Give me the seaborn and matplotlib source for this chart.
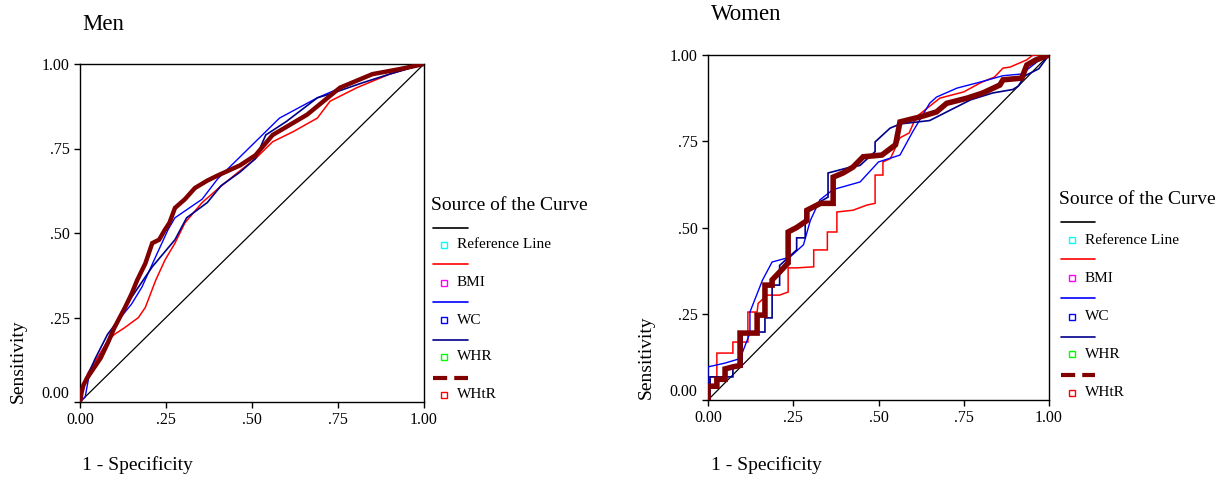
import matplotlib
matplotlib.use("Agg")
import matplotlib.pyplot as plt
from matplotlib.lines import Line2D
import seaborn as sns

# ---------------- data (1 - specificity, sensitivity) ----------------
men_ref_x = [0.0, 1.0]
men_ref_y = [0.0, 1.0]

men_bmi_x = [0, 0.005, 0.023, 0.05, 0.08, 0.10, 0.13, 0.17, 0.19, 0.22, 0.247, 0.276, 0.305,
             0.355, 0.40, 0.46, 0.51, 0.56, 0.62, 0.69, 0.727, 0.805, 0.90, 1.0]
men_bmi_y = [0, 0.04, 0.086, 0.13, 0.18, 0.20, 0.22, 0.25, 0.28, 0.36, 0.42, 0.47, 0.53,
             0.59, 0.63, 0.68, 0.72, 0.77, 0.80, 0.84, 0.89, 0.93, 0.97, 1.0]

men_wc_x = [0, 0.015, 0.025, 0.05, 0.08, 0.11, 0.15, 0.18, 0.22, 0.256, 0.276, 0.355, 0.40,
            0.46, 0.53, 0.58, 0.69, 0.85, 1.0]
men_wc_y = [0, 0.015, 0.07, 0.12, 0.18, 0.24, 0.29, 0.34, 0.43, 0.51, 0.545, 0.60, 0.66,
            0.72, 0.79, 0.84, 0.90, 0.97, 1.0]

men_whr_x = [0, 0.01, 0.02, 0.045, 0.08, 0.11, 0.15, 0.21, 0.276, 0.31, 0.37, 0.41, 0.465,
             0.51, 0.54, 0.60, 0.69, 0.735, 0.82, 0.90, 1.0]
men_whr_y = [0, 0.05, 0.074, 0.13, 0.20, 0.24, 0.31, 0.40, 0.48, 0.545, 0.59, 0.64, 0.68,
             0.72, 0.79, 0.83, 0.90, 0.914, 0.944, 0.97, 1.0]

men_whtr_x = [0, 0.005, 0.01, 0.02, 0.04, 0.06, 0.081, 0.10, 0.131, 0.15, 0.166, 0.19, 0.21,
              0.23, 0.247, 0.26, 0.276, 0.305, 0.334, 0.37, 0.40, 0.465, 0.51, 0.56, 0.66,
              0.756, 0.85, 0.93, 1.0]
men_whtr_y = [0, 0.03, 0.05, 0.07, 0.10, 0.13, 0.175, 0.22, 0.28, 0.32, 0.36, 0.41, 0.47,
              0.48, 0.51, 0.53, 0.574, 0.60, 0.633, 0.655, 0.67, 0.70, 0.73, 0.79, 0.85,
              0.93, 0.97, 0.985, 1.0]

women_ref_x = [0.0, 1.0]
women_ref_y = [0.0, 1.0]

women_bmi_x = [0, 0.006, 0.006, 0.026, 0.026, 0.073, 0.073, 0.117, 0.117, 0.144, 0.147, 0.173,
               0.21, 0.235, 0.235, 0.26, 0.31, 0.31, 0.35, 0.35, 0.378, 0.378, 0.425, 0.466,
               0.49, 0.49, 0.513, 0.513, 0.535, 0.563, 0.59, 0.61, 0.68, 0.75, 0.80, 0.84,
               0.865, 0.886, 0.935, 0.953, 1.0]
women_bmi_y = [0, 0, 0.067, 0.067, 0.136, 0.136, 0.168, 0.168, 0.255, 0.255, 0.28, 0.304,
               0.304, 0.313, 0.383, 0.383, 0.386, 0.435, 0.435, 0.487, 0.487, 0.545, 0.55,
               0.565, 0.57, 0.652, 0.652, 0.69, 0.70, 0.76, 0.774, 0.82, 0.875, 0.893, 0.92,
               0.936, 0.962, 0.965, 0.986, 1.0, 1.0]

women_wc_x = [0, 0, 0.05, 0.094, 0.123, 0.123, 0.16, 0.188, 0.24, 0.28, 0.30, 0.328, 0.367,
              0.446, 0.50, 0.563, 0.60, 0.65, 0.67, 0.73, 0.80, 0.865, 0.92, 0.965, 1.0]
women_wc_y = [0, 0.096, 0.107, 0.12, 0.194, 0.255, 0.348, 0.40, 0.414, 0.45, 0.52, 0.58, 0.61,
              0.632, 0.69, 0.71, 0.777, 0.86, 0.878, 0.904, 0.922, 0.94, 0.945, 0.98, 1.0]

women_whr_x = [0, 0.006, 0.006, 0.073, 0.073, 0.10, 0.10, 0.167, 0.167, 0.188, 0.188, 0.21,
               0.21, 0.26, 0.26, 0.285, 0.285, 0.352, 0.352, 0.41, 0.446, 0.49, 0.49, 0.534,
               0.563, 0.65, 0.70, 0.77, 0.835, 0.894, 0.91, 0.93, 0.97, 1.0]
women_whr_y = [0, 0, 0.067, 0.067, 0.096, 0.096, 0.197, 0.197, 0.238, 0.238, 0.333, 0.333,
               0.39, 0.435, 0.47, 0.47, 0.55, 0.588, 0.658, 0.673, 0.68, 0.72, 0.748, 0.788,
               0.80, 0.81, 0.835, 0.87, 0.89, 0.90, 0.91, 0.94, 0.96, 1.0]

women_whtr_x = [0, 0, 0.026, 0.026, 0.05, 0.05, 0.073, 0.094, 0.094, 0.144, 0.144, 0.167,
                0.167, 0.188, 0.188, 0.235, 0.235, 0.26, 0.29, 0.29, 0.33, 0.367, 0.367,
                0.396, 0.425, 0.446, 0.455, 0.51, 0.55, 0.563, 0.62, 0.67, 0.70, 0.76,
                0.806, 0.856, 0.865, 0.92, 0.935, 0.96, 1.0]
women_whtr_y = [0, 0.04, 0.04, 0.06, 0.06, 0.09, 0.096, 0.10, 0.194, 0.194, 0.246, 0.246,
                0.333, 0.333, 0.348, 0.397, 0.487, 0.50, 0.52, 0.55, 0.57, 0.57, 0.646,
                0.658, 0.675, 0.696, 0.705, 0.71, 0.74, 0.806, 0.82, 0.835, 0.86, 0.875,
                0.89, 0.913, 0.928, 0.933, 0.971, 0.985, 1.0]

tick_values = [0.0, 0.25, 0.5, 0.75, 1.0]
tick_labels = ["0.00", ".25", ".50", ".75", "1.00"]
series_names = ["Reference Line", "BMI", "WC", "WHR", "WHtR"]
panel_titles = ["Men", "Women"]

# ---------------- styles ----------------
line_colors = ["#000000", "#ff0000", "#0000ff", "#00008b", "#800000"]
men_widths = [0.9, 1.1, 1.0, 1.2, 3.2]
women_widths = [0.9, 1.1, 1.0, 1.2, 4.0]
marker_colors = ["#00ffff", "#ff00ff", "#0000ff", "#00ff00", "#ff0000"]

sns.set_theme(style="white")
plt.rcParams["font.family"] = ["Liberation Serif", "DejaVu Serif"]
plt.rcParams["text.color"] = "black"
plt.rcParams["axes.labelcolor"] = "black"

W, H = 1228, 479
fig = plt.figure(figsize=(W / 100, H / 100), dpi=100)


def px_axes(x0, y_top, x1, y_bot):
    return fig.add_axes([x0 / W, 1 - y_bot / H, (x1 - x0) / W, (y_bot - y_top) / H])


ax_m = px_axes(80, 64, 424, 402)
ax_w = px_axes(708, 55, 1049, 400)

panels = [
    (ax_m, men_widths,
     [(men_ref_x, men_ref_y), (men_bmi_x, men_bmi_y), (men_wc_x, men_wc_y),
      (men_whr_x, men_whr_y), (men_whtr_x, men_whtr_y)]),
    (ax_w, women_widths,
     [(women_ref_x, women_ref_y), (women_bmi_x, women_bmi_y), (women_wc_x, women_wc_y),
      (women_whr_x, women_whr_y), (women_whtr_x, women_whtr_y)]),
]

for ax, widths, series in panels:
    for i, (xs, ys) in enumerate(series):
        sns.lineplot(x=xs, y=ys, ax=ax, sort=False, estimator=None,
                     color=line_colors[i], linewidth=widths[i],
                     solid_joinstyle="miter", zorder=2 + i)
    ax.set_xlim(0, 1)
    ax.set_ylim(0, 1)
    ax.set_xticks(tick_values)
    ax.set_xticklabels(tick_labels)
    ax.set_yticks(tick_values)
    ax.set_yticklabels(tick_labels)
    ax.tick_params(axis="both", direction="out", length=4.5, width=1.0, color="black",
                   labelsize=11.5, labelcolor="black", pad=3, bottom=True, left=True)
    for sp in ax.spines.values():
        sp.set_visible(True)
        sp.set_color("black")
        sp.set_linewidth(1.0)
    ax.set_xlabel("")
    ax.set_ylabel("")
    ax.grid(False)
    ax.set_facecolor("white")
    # bottom y label sits slightly above the axis corner
    ax.get_yticklabels()[0].set_verticalalignment("bottom")


def ftxt(x, y, s, **kw):
    fig.text(x / W, 1 - y / H, s, color="black", **kw)


# titles and axis labels
ftxt(82, 25, panel_titles[0], fontsize=16.5, va="center", ha="left")
ftxt(711, 15, panel_titles[1], fontsize=16.5, va="center", ha="left")
ftxt(82, 465, "1 - Specificity", fontsize=14, va="center", ha="left")
ftxt(711, 465, "1 - Specificity", fontsize=14, va="center", ha="left")
ftxt(18, 361, "Sensitivity", fontsize=14, va="center", ha="center", rotation=90)
ftxt(646, 357, "Sensitivity", fontsize=14, va="center", ha="center", rotation=90)


# manual SPSS-style legends
def legend(title_xy, line_x, line_ys, mark_x, mark_ys, text_x):
    ftxt(title_xy[0], title_xy[1], "Source of the Curve", fontsize=14, va="center", ha="left")
    for i in range(5):
        ly = 1 - line_ys[i] / H
        if i == 4:
            ln = Line2D([line_x[0] / W, line_x[1] / W], [ly, ly], transform=fig.transFigure,
                        color=line_colors[i], linewidth=3.0, linestyle=(0, (3.4, 1.7)),
                        solid_capstyle="butt", dash_capstyle="butt")
        else:
            ln = Line2D([line_x[0] / W, line_x[1] / W], [ly, ly], transform=fig.transFigure,
                        color=line_colors[i], linewidth=1.2)
        fig.add_artist(ln)
        my = 1 - mark_ys[i] / H
        mk = Line2D([mark_x / W], [my], transform=fig.transFigure, marker="s",
                    markersize=5, markerfacecolor="white",
                    markeredgecolor=marker_colors[i], markeredgewidth=1.0, linestyle="none")
        fig.add_artist(mk)
        ftxt(text_x, mark_ys[i], series_names[i], fontsize=11, va="center", ha="left")


legend((431, 205), (433, 468), [228, 264, 302, 340, 378], 444, [245, 283, 320, 357, 395], 457)
legend((1059, 200), (1061, 1095), [222, 259, 298, 337, 375], 1072, [240, 278, 317, 354, 393], 1085)

fig.savefig("out.png", dpi=100, facecolor="white")
